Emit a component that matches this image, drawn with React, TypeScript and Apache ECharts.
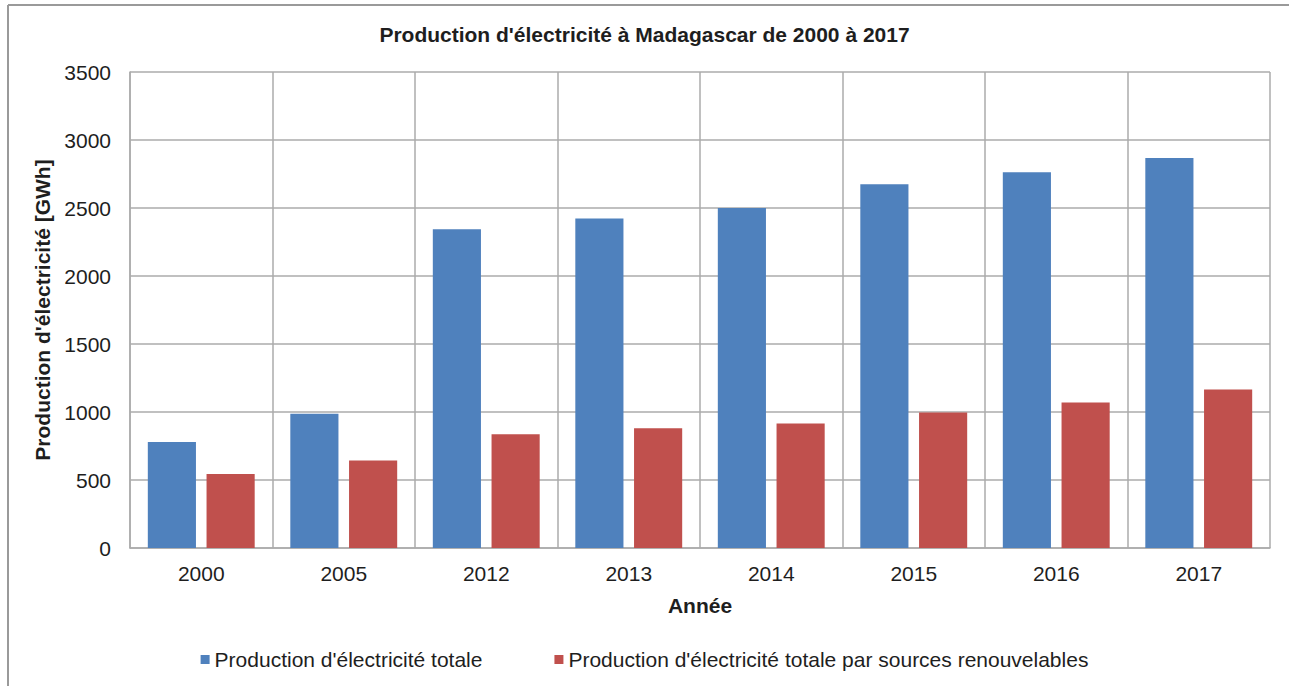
import React, { useEffect, useRef } from "react";
import * as echarts from "echarts";

const years = ["2000", "2005", "2012", "2013", "2014", "2015", "2016", "2017"];
const totalProduction = [780, 988, 2344, 2422, 2500, 2674, 2762, 2867];
const renewableProduction = [545, 643, 836, 880, 916, 997, 1070, 1166];
const seriesNames = [
  "Production d'électricité totale",
  "Production d'électricité totale par sources renouvelables",
];
const titleText = "Production d'électricité à Madagascar de 2000 à 2017";
const yAxisName = "Production d'électricité [GWh]";
const xAxisName = "Année";

const FONT = "'Liberation Sans', Arial, sans-serif";
const TEXT = "#1e1e1e";
const GRID = "#ababab";

export default function App() {
  const ref = useRef<HTMLDivElement>(null);
  useEffect(() => {
    document.body.style.margin = "0";
    const chart = echarts.init(ref.current!, null, { renderer: "svg" });
    chart.setOption({
      animation: false,
      backgroundColor: "#ffffff",
      textStyle: { fontFamily: FONT },
      title: {
        text: titleText,
        left: "center",
        top: 24,
        padding: 0,
        textStyle: { fontFamily: FONT, fontSize: 21, fontWeight: "bold", color: TEXT },
      },
      graphic: [
        { type: "line", shape: { x1: 8, y1: 5, x2: 1289, y2: 5 }, style: { stroke: "#9a9a9a", lineWidth: 2 } },
        { type: "line", shape: { x1: 8, y1: 5, x2: 8, y2: 686 }, style: { stroke: "#9a9a9a", lineWidth: 2 } },
      ],
      legend: {
        left: "center",
        top: 649,
        itemWidth: 9,
        itemHeight: 9,
        itemGap: 72,
        icon: "rect",
        padding: 0,
        textStyle: { fontFamily: FONT, fontSize: 21, color: TEXT },
        data: seriesNames,
      },
      grid: { left: 130, right: 19, top: 72, bottom: 138 },
      xAxis: {
        type: "category",
        data: years,
        name: xAxisName,
        nameLocation: "middle",
        nameGap: 47,
        nameTextStyle: { fontFamily: FONT, fontSize: 21, fontWeight: "bold", color: TEXT },
        axisLine: { show: true, lineStyle: { color: GRID, width: 1.5 } },
        axisTick: { show: false },
        axisLabel: { margin: 15, fontFamily: FONT, fontSize: 21, color: TEXT },
        splitLine: { show: true, interval: 0, lineStyle: { color: GRID, width: 1.5 } },
      },
      yAxis: {
        type: "value",
        min: 0,
        max: 3500,
        interval: 500,
        name: yAxisName,
        nameLocation: "middle",
        nameGap: 68,
        nameTextStyle: { fontFamily: FONT, fontSize: 21, fontWeight: "bold", color: TEXT },
        axisLine: { show: true, lineStyle: { color: GRID, width: 1.5 } },
        axisTick: { show: false },
        axisLabel: {
          margin: 19,
          fontFamily: FONT,
          fontSize: 21,
          color: TEXT,
          formatter: (v: number) => String(v),
        },
        splitLine: { show: true, lineStyle: { color: GRID, width: 1.5 } },
      },
      series: [
        {
          name: seriesNames[0],
          type: "bar",
          data: totalProduction,
          itemStyle: { color: "#4f81bd" },
          barGap: "22%",
          barCategoryGap: "25%",
        },
        {
          name: seriesNames[1],
          type: "bar",
          data: renewableProduction,
          itemStyle: { color: "#c0504d" },
          barGap: "22%",
          barCategoryGap: "25%",
        },
      ],
    });
    return () => chart.dispose();
  }, []);
  return <div ref={ref} style={{ width: 1289, height: 686 }} />;
}
